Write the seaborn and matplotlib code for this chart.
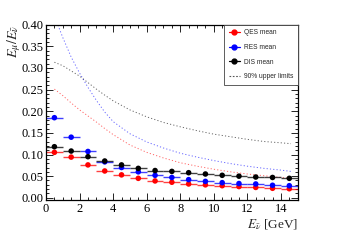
import numpy as np
import pandas as pd
import matplotlib
matplotlib.use("Agg")
import matplotlib.pyplot as plt
import seaborn as sns
from matplotlib.lines import Line2D
from matplotlib.ticker import MultipleLocator

# ---- data ----
bin_centers = [0.5, 1.5, 2.5, 3.5, 4.5, 5.5, 6.5, 7.5, 8.5, 9.5, 10.5, 11.5, 12.5, 13.5, 14.5]
bin_halfwidth = 0.5
qes_mean = [0.105, 0.094, 0.076, 0.062, 0.053, 0.045, 0.039, 0.036, 0.032, 0.030, 0.028, 0.026, 0.024, 0.022, 0.021]
res_mean = [0.185, 0.140, 0.107, 0.083, 0.070, 0.060, 0.052, 0.047, 0.042, 0.038, 0.035, 0.033, 0.032, 0.029, 0.028]
dis_mean = [0.118, 0.108, 0.095, 0.085, 0.076, 0.068, 0.063, 0.061, 0.058, 0.055, 0.052, 0.050, 0.048, 0.047, 0.045]

limit_x = [0.5, 1.0, 1.5, 2.0, 2.5, 3.0, 3.5, 4.0, 5.0, 6.0, 7.0, 8.0, 9.0, 10.0, 11.0, 12.0, 13.0, 14.0, 14.6]
qes_limit = [0.251, 0.236, 0.219, 0.203, 0.189, 0.175, 0.160, 0.146, 0.122, 0.105, 0.092, 0.081, 0.073, 0.066, 0.060, 0.055, 0.051, 0.047, 0.045]
res_limit = [0.420, 0.370, 0.325, 0.288, 0.255, 0.225, 0.198, 0.176, 0.148, 0.129, 0.115, 0.103, 0.094, 0.086, 0.079, 0.073, 0.068, 0.064, 0.061]
dis_limit = [0.313, 0.305, 0.293, 0.281, 0.266, 0.251, 0.237, 0.224, 0.203, 0.187, 0.174, 0.164, 0.155, 0.147, 0.141, 0.135, 0.130, 0.127, 0.125]

series_names = ["QES mean", "RES mean", "DIS mean"]
colors = {"QES mean": "#ff0000", "RES mean": "#0000ff", "DIS mean": "#000000"}

# ---- style ----
sns.set_style("ticks")
plt.rcParams["font.family"] = ["Liberation Serif", "DejaVu Serif"]
plt.rcParams["mathtext.fontset"] = "stix"

fig = plt.figure(figsize=(3.55, 2.40), dpi=100)
ax = fig.add_axes([0.1296, 0.1667, 0.709, 0.731])

means = pd.DataFrame({
    "E": bin_centers * 3,
    "ratio": qes_mean + res_mean + dis_mean,
    "type": ["QES mean"] * 15 + ["RES mean"] * 15 + ["DIS mean"] * 15,
})
limits = pd.DataFrame({
    "E": limit_x * 3,
    "ratio": qes_limit + res_limit + dis_limit,
    "type": ["QES mean"] * len(limit_x) + ["RES mean"] * len(limit_x) + ["DIS mean"] * len(limit_x),
})

# dotted upper-limit curves
for name in series_names:
    sub = limits[limits["type"] == name]
    sns.lineplot(data=sub, x="E", y="ratio", ax=ax, color=colors[name],
                 linewidth=0.7, alpha=0.6, linestyle=(0, (1.2, 2.2)),
                 legend=False, sort=False)

# horizontal error bars
for name in series_names:
    sub = means[means["type"] == name]
    ax.errorbar(sub["E"], sub["ratio"], xerr=bin_halfwidth, fmt="none",
                ecolor=colors[name], elinewidth=1.0, alpha=0.75, capsize=0)

# mean markers
sns.scatterplot(data=means, x="E", y="ratio", hue="type", palette=colors,
                hue_order=series_names, ax=ax, s=16, edgecolor="none",
                legend=False, zorder=5)

ax.set_xlim(0, 15)
ax.set_ylim(-0.005, 0.40)
ax.xaxis.set_major_locator(MultipleLocator(2))
ax.xaxis.set_minor_locator(MultipleLocator(0.5))
ax.yaxis.set_major_locator(MultipleLocator(0.05))
ax.yaxis.set_minor_locator(MultipleLocator(0.01))
ax.yaxis.set_major_formatter(matplotlib.ticker.FormatStrFormatter("%.2f"))
ax.tick_params(which="both", direction="in", top=True, right=True,
               labelsize=9, colors="black", width=0.6, pad=2)
ax.tick_params(which="major", length=5)
ax.tick_params(which="minor", length=2.5)
for sp in ax.spines.values():
    sp.set_linewidth(0.9)
    sp.set_color("black")

ax.set_xlabel(r"$E_{\bar{\nu}}$ [GeV]", fontsize=9.5, ha="right")
ax.xaxis.set_label_coords(1.0, -0.10)
ax.set_ylabel(r"$E_{\mu}/E_{\bar{\nu}}$", fontsize=10, ha="right")
ax.yaxis.set_label_coords(-0.09, 1.0)

handles = [
    Line2D([0], [0], color="#ff0000", marker="o", markersize=3.5, linewidth=0.9),
    Line2D([0], [0], color="#0000ff", marker="o", markersize=3.5, linewidth=0.9),
    Line2D([0], [0], color="#000000", marker="o", markersize=3.5, linewidth=0.9),
    Line2D([0], [0], color="#555555", linestyle=(0, (1.5, 1.5)), linewidth=0.8),
]
labels = ["QES mean", "RES mean", "DIS mean", "90% upper limits"]
leg = ax.legend(handles, labels, loc="upper right", bbox_to_anchor=(1.0, 1.0),
                prop={"family": "Liberation Sans", "size": 4.8},
                frameon=True, fancybox=False, framealpha=1, edgecolor="#444444",
                handlelength=1.6, handletextpad=0.6, labelspacing=1.15,
                borderpad=0.7, borderaxespad=0)
leg.get_frame().set_linewidth(0.6)

fig.savefig("out.png", dpi=100)
